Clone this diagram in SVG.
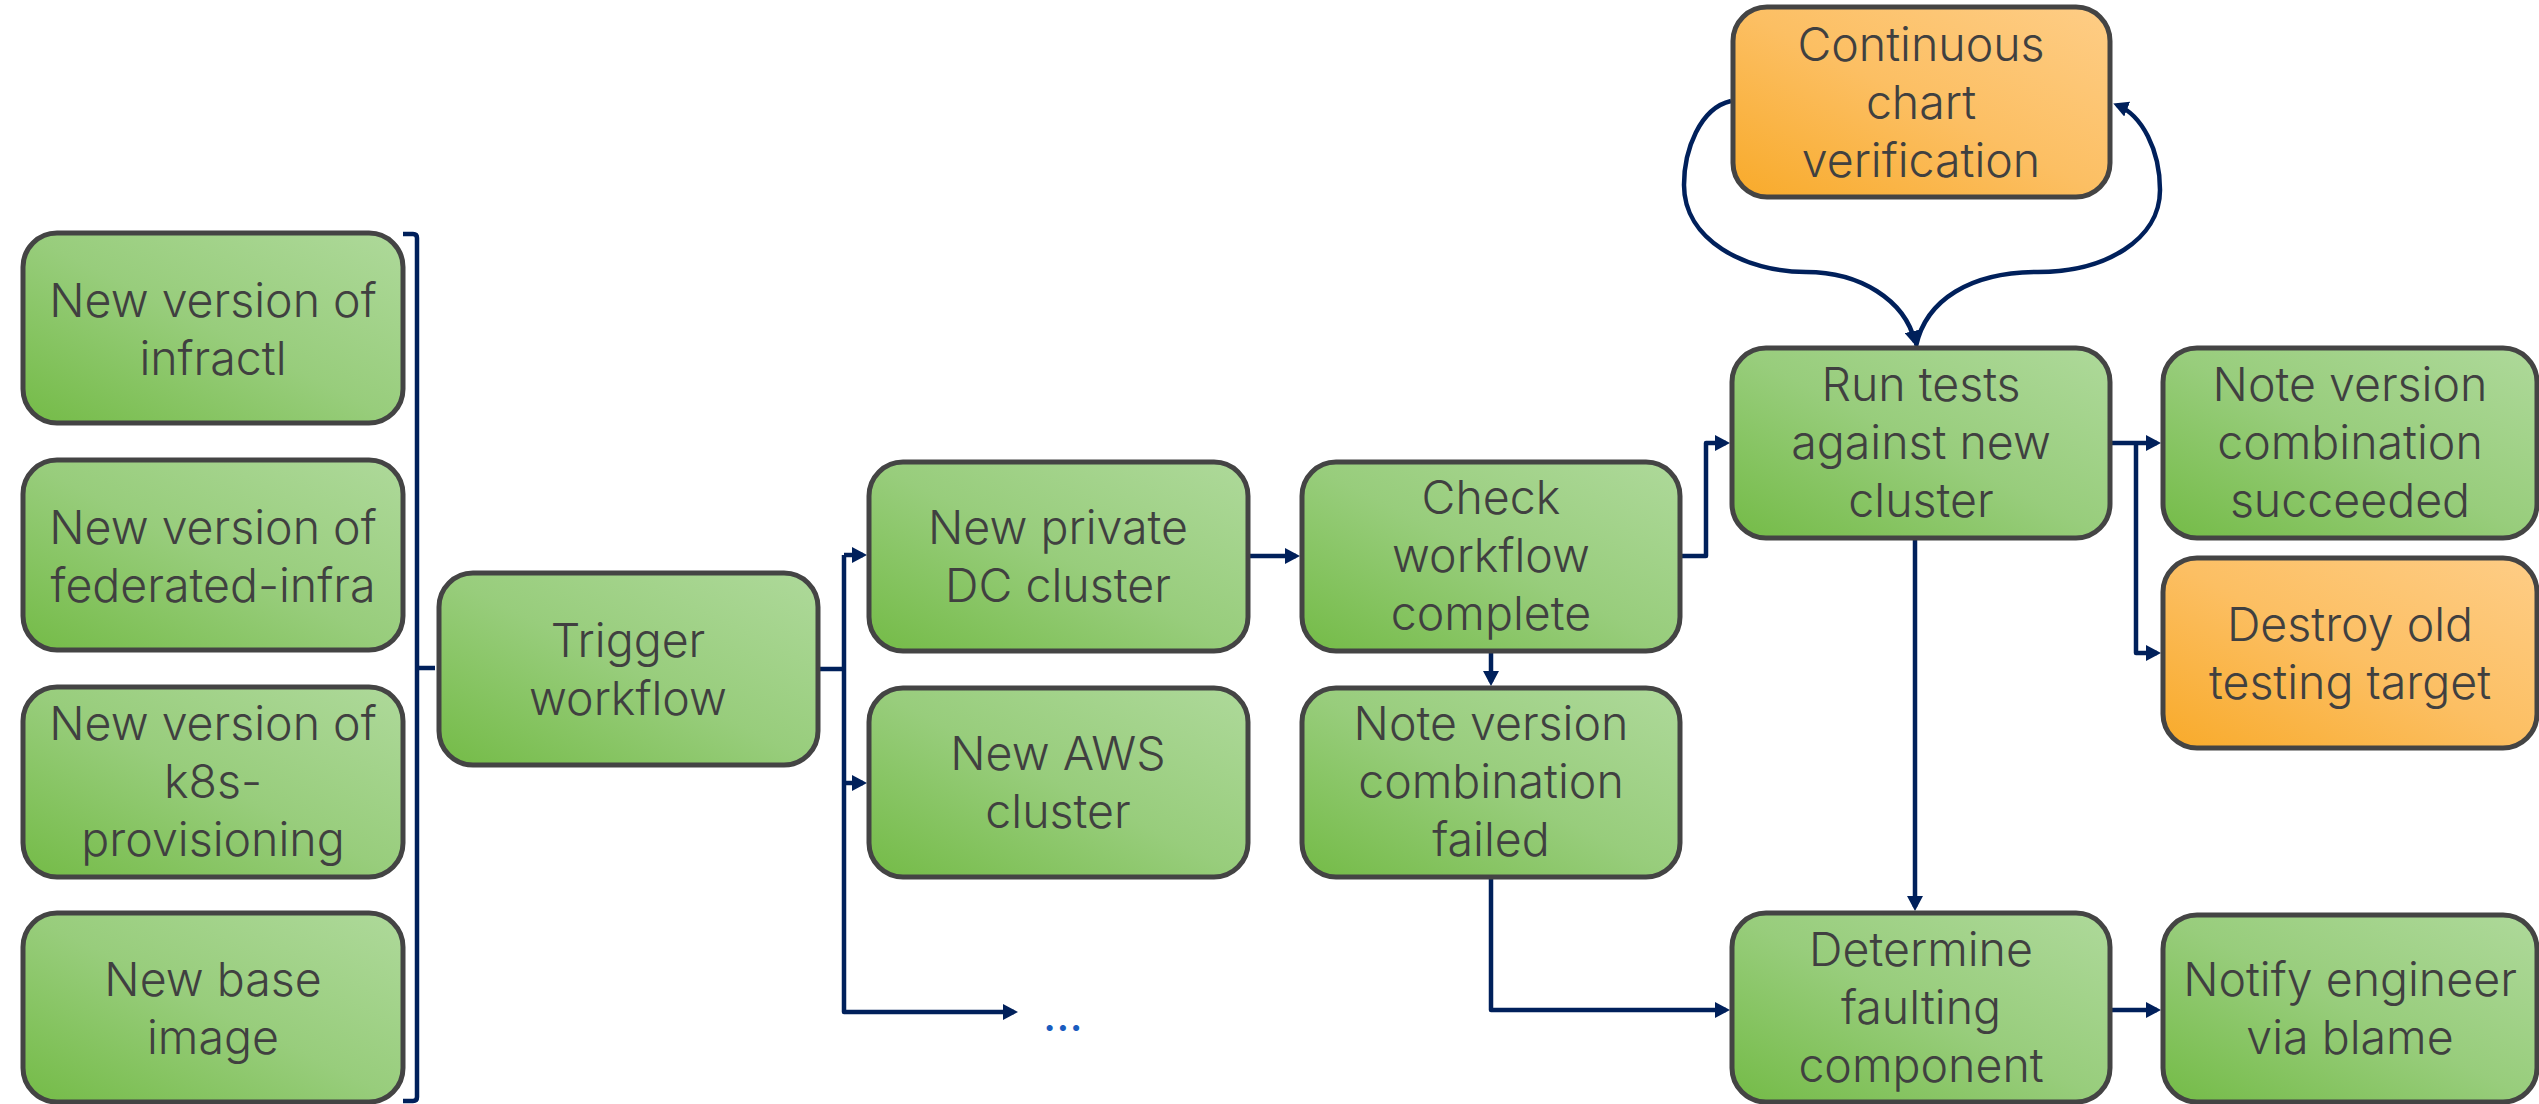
<svg xmlns="http://www.w3.org/2000/svg" width="2539" height="1104" viewBox="0 0 2539 1104">
<defs>
<linearGradient id="gGreen" x1="0" y1="1" x2="1" y2="0">
<stop offset="0" stop-color="#74bb47"/>
<stop offset="0.5" stop-color="#98cd7c"/>
<stop offset="1" stop-color="#aed99a"/>
</linearGradient>
<linearGradient id="gOrange" x1="0" y1="1" x2="1" y2="0">
<stop offset="0" stop-color="#f8aa2a"/>
<stop offset="0.5" stop-color="#fcbf63"/>
<stop offset="1" stop-color="#fecd86"/>
</linearGradient>
<marker id="arr" markerUnits="userSpaceOnUse" markerWidth="15" markerHeight="16" refX="11" refY="8" orient="auto">
<path d="M0,0 L15,8 L0,16 z" fill="#00205b"/>
</marker>
<style>
.box{stroke:#444444;stroke-width:5}
.g{fill:url(#gGreen)}
.o{fill:url(#gOrange)}
.t{font-family:Inter,"Liberation Sans",sans-serif;font-weight:300;font-size:46.5px;fill:#404040;text-anchor:middle}
.c{fill:none;stroke:#00205b;stroke-width:4.5;stroke-linejoin:round}
.a{marker-end:url(#arr)}
</style>
</defs>
<rect width="2539" height="1104" fill="#ffffff"/>

<g id="connectors">
<path class="c" d="M403,234 L413,234 Q417,234 417,238 L417,1097 Q417,1101 413,1101 L403,1101"/>
<path class="c" d="M417,668 L435,668"/>
<path class="c" d="M818,669 L844,669"/>
<path class="c a" d="M844,555 L844,1012 L1014,1012"/>
<path class="c a" d="M844,555 L863,555"/>
<path class="c a" d="M844,783 L863,783"/>
<path class="c a" d="M1248,556 L1296,556"/>
<path class="c a" d="M1491,651 L1491,682"/>
<path class="c a" d="M1680,556 L1706,556 L1706,443 L1726,443"/>
<path class="c a" d="M1491,877 L1491,1010 L1726,1010"/>
<path class="c a" d="M1915,538 L1915,907"/>
<path class="c a" d="M2110,443 L2157,443"/>
<path class="c a" d="M2136,443 L2136,653 L2157,653"/>
<path class="c a" d="M2110,1010 L2157,1010"/>
<path class="c a" d="M1731,101 C1700,108 1684,150 1684,185 C1684,240 1745,272 1806,272 C1860,272 1905,300 1915,342"/>
<path class="c a" d="M1916,346 C1926,300 1970,272 2038,272 C2105,272 2160,240 2160,190 C2160,150 2142,115 2117,105"/>
</g>

<g id="n-infractl"><rect class="box g" x="23" y="233" width="380" height="190" rx="34"/>
<text class="t" x="213" y="317">New version of</text><text class="t" x="213" y="375">infractl</text></g>
<g id="n-federated"><rect class="box g" x="23" y="460" width="380" height="190" rx="34"/>
<text class="t" x="213" y="544">New version of</text><text class="t" x="213" y="602">federated-infra</text></g>
<g id="n-k8s"><rect class="box g" x="23" y="687" width="380" height="190" rx="34"/>
<text class="t" x="213" y="740">New version of</text><text class="t" x="213" y="798">k8s-</text><text class="t" x="213" y="856">provisioning</text></g>
<g id="n-base"><rect class="box g" x="23" y="913" width="380" height="189" rx="34"/>
<text class="t" x="213" y="996">New base</text><text class="t" x="213" y="1054">image</text></g>

<g id="n-trigger"><rect class="box g" x="439" y="573" width="379" height="192" rx="34"/>
<text class="t" x="628" y="657">Trigger</text><text class="t" x="628" y="715">workflow</text></g>

<g id="n-dc"><rect class="box g" x="869" y="462" width="379" height="189" rx="34"/>
<text class="t" x="1058" y="544">New private</text><text class="t" x="1058" y="602">DC cluster</text></g>
<g id="n-aws"><rect class="box g" x="869" y="688" width="379" height="189" rx="34"/>
<text class="t" x="1058" y="770">New AWS</text><text class="t" x="1058" y="828">cluster</text></g>
<g id="n-more"><text x="1043" y="1031" style="font-family:Inter,'Liberation Sans',sans-serif;font-size:46px;fill:#1a5cbf">...</text></g>

<g id="n-check"><rect class="box g" x="1302" y="462" width="378" height="189" rx="34"/>
<text class="t" x="1491" y="514">Check</text><text class="t" x="1491" y="572">workflow</text><text class="t" x="1491" y="630">complete</text></g>
<g id="n-failed"><rect class="box g" x="1302" y="688" width="378" height="189" rx="34"/>
<text class="t" x="1491" y="740">Note version</text><text class="t" x="1491" y="798">combination</text><text class="t" x="1491" y="856">failed</text></g>

<g id="n-continuous"><rect class="box o" x="1733" y="7" width="377" height="190" rx="34"/>
<text class="t" x="1921" y="61">Continuous</text><text class="t" x="1921" y="119">chart</text><text class="t" x="1921" y="177">verification</text></g>
<g id="n-runtests"><rect class="box g" x="1732" y="348" width="378" height="190" rx="34"/>
<text class="t" x="1921" y="401">Run tests</text><text class="t" x="1921" y="459">against new</text><text class="t" x="1921" y="517">cluster</text></g>
<g id="n-determine"><rect class="box g" x="1732" y="913" width="378" height="189" rx="34"/>
<text class="t" x="1921" y="966">Determine</text><text class="t" x="1921" y="1024">faulting</text><text class="t" x="1921" y="1082">component</text></g>

<g id="n-succeeded"><rect class="box g" x="2163" y="348" width="374" height="190" rx="34"/>
<text class="t" x="2350" y="401">Note version</text><text class="t" x="2350" y="459">combination</text><text class="t" x="2350" y="517">succeeded</text></g>
<g id="n-destroy"><rect class="box o" x="2163" y="558" width="374" height="190" rx="34"/>
<text class="t" x="2350" y="641">Destroy old</text><text class="t" x="2350" y="699">testing target</text></g>
<g id="n-notify"><rect class="box g" x="2163" y="915" width="374" height="187" rx="34"/>
<text class="t" x="2350" y="996">Notify engineer</text><text class="t" x="2350" y="1054">via blame</text></g>
</svg>
